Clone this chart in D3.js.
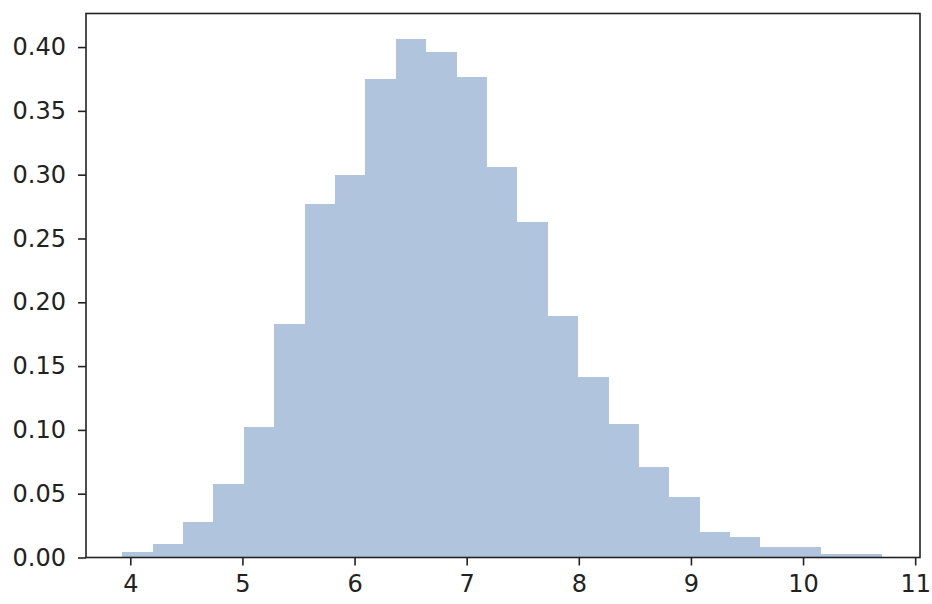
<!DOCTYPE html>
<html>
<head>
<meta charset="utf-8">
<script src="https://cdn.jsdelivr.net/npm/d3@7"></script>
<style>
  body { margin: 0; background: #fff; }
  svg text { font-family: "DejaVu Sans", sans-serif; }
</style>
</head>
<body>
<svg id="chart" width="932" height="604"></svg>
<script>
// histogram bin edges (x) and densities (y)
var binEdges = [3.929, 4.200, 4.471, 4.742, 5.013, 5.284, 5.555, 5.826, 6.097, 6.368,
                6.639, 6.910, 7.181, 7.452, 7.723, 7.994, 8.265, 8.536, 8.806, 9.077,
                9.348, 9.619, 9.890, 10.161, 10.432, 10.703];
var density = [0.0045, 0.0105, 0.028, 0.0575, 0.1024, 0.1826, 0.277, 0.2998, 0.3746, 0.406,
               0.3963, 0.3767, 0.3064, 0.263, 0.189, 0.1418, 0.1048, 0.0711, 0.0476, 0.0201,
               0.0162, 0.0086, 0.0086, 0.0027, 0.0027];
var xTicks = [4, 5, 6, 7, 8, 9, 10, 11];
var yTicks = [0, 0.05, 0.10, 0.15, 0.20, 0.25, 0.30, 0.35, 0.40];

var svg = d3.select("#chart"),
    marginTop = 13.5,
    marginRight = 12,
    marginBottom = 46.5,
    marginLeft = 86,
    width = +svg.attr("width"),
    height = +svg.attr("height");

var bins = density.map(function (d, i) {
  return { x0: binEdges[i], x1: binEdges[i + 1], y: d };
});

var xScale = d3.scaleLinear()
  .domain([3.605, 11.043])
  .range([marginLeft, width - marginRight]);
var yScale = d3.scaleLinear()
  .domain([0, 0.4263])
  .range([height - marginBottom, marginTop]);

// bars
svg.append("g")
  .selectAll("rect")
  .data(bins)
  .enter()
  .append("rect")
  .attr("x", function (d) { return xScale(d.x0); })
  .attr("width", function (d) { return xScale(d.x1) - xScale(d.x0); })
  .attr("y", function (d) { return yScale(d.y); })
  .attr("height", function (d) { return yScale(0) - yScale(d.y); })
  .attr("shape-rendering", "crispEdges")
  .style("fill", "#b0c4de");

// axes
var xAxis = svg.append("g")
  .attr("transform", "translate(0," + (height - marginBottom) + ")")
  .call(d3.axisBottom(xScale).tickValues(xTicks).tickFormat(d3.format("d"))
    .tickSizeInner(8).tickSizeOuter(0).tickPadding(9));

var yAxis = svg.append("g")
  .attr("transform", "translate(" + marginLeft + ",0)")
  .call(d3.axisLeft(yScale).tickValues(yTicks).tickFormat(d3.format(".2f"))
    .tickSizeInner(8).tickSizeOuter(0).tickPadding(12));

[xAxis, yAxis].forEach(function (ax) {
  ax.select(".domain").remove();
  ax.selectAll(".tick line").style("stroke", "#222").style("stroke-width", 1.6);
  ax.selectAll(".tick text").style("font-size", "24px").style("fill", "#222");
});

// frame
svg.append("rect")
  .attr("x", marginLeft)
  .attr("y", marginTop)
  .attr("width", width - marginLeft - marginRight)
  .attr("height", height - marginTop - marginBottom)
  .style("fill", "none")
  .style("stroke", "#222")
  .style("stroke-width", 1.6);
</script>
</body>
</html>
